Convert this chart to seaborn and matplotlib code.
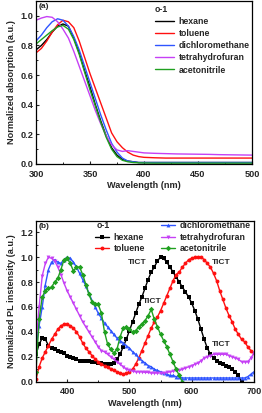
import numpy as np
import pandas as pd
import seaborn as sns
import matplotlib.pyplot as plt
from matplotlib.lines import Line2D
from matplotlib.ticker import MultipleLocator

# absorption spectra (panel a)
abs_wl = [300, 305, 310, 315, 320, 325, 330, 335, 340, 345, 350, 355, 360, 365, 370,
          375, 380, 385, 390, 395, 400, 410, 420, 430, 440, 450, 460, 470, 480, 490, 500]
abs_hexane = [0.77, 0.80, 0.84, 0.89, 0.93, 0.945, 0.93, 0.85, 0.75, 0.63, 0.52, 0.40, 0.29, 0.19, 0.11,
              0.06, 0.03, 0.02, 0.015, 0.01, 0.01, 0.01, 0.01, 0.01, 0.01, 0.01, 0.01, 0.01, 0.01, 0.01, 0.01]
abs_toluene = [0.75, 0.78, 0.83, 0.89, 0.94, 0.97, 0.96, 0.92, 0.83, 0.72, 0.61, 0.51, 0.41, 0.31, 0.21,
               0.15, 0.11, 0.08, 0.06, 0.05, 0.045, 0.042, 0.04, 0.04, 0.04, 0.04, 0.04, 0.04, 0.04, 0.04, 0.04]
abs_dcm = [0.83, 0.87, 0.92, 0.96, 0.98, 0.97, 0.93, 0.86, 0.77, 0.66, 0.55, 0.44, 0.33, 0.23, 0.14,
           0.08, 0.04, 0.02, 0.015, 0.01, 0.01, 0.01, 0.01, 0.01, 0.01, 0.01, 0.01, 0.01, 0.01, 0.01, 0.01]
abs_thf = [0.97, 0.985, 0.995, 0.99, 0.96, 0.91, 0.85, 0.76, 0.66, 0.56, 0.46, 0.36, 0.27, 0.19, 0.13,
           0.095, 0.085, 0.09, 0.085, 0.08, 0.075, 0.072, 0.07, 0.068, 0.067, 0.066, 0.065, 0.063, 0.062, 0.061, 0.06]
abs_acn = [0.81, 0.84, 0.87, 0.90, 0.925, 0.935, 0.91, 0.84, 0.74, 0.62, 0.50, 0.39, 0.28, 0.18, 0.10,
           0.05, 0.025, 0.015, 0.01, 0.008, 0.007, 0.006, 0.006, 0.006, 0.006, 0.006, 0.006, 0.006, 0.006, 0.006, 0.006]

# PL spectra (panel b), 350-700 nm every 5 nm
pl_wl = list(range(350, 705, 5))
pl_hexane = [0.22, 0.30, 0.35, 0.34, 0.29, 0.27, 0.26, 0.25, 0.24, 0.23, 0.21, 0.20, 0.19, 0.18, 0.17,
             0.17, 0.17, 0.17, 0.16, 0.16, 0.15, 0.15, 0.14, 0.14, 0.14, 0.15, 0.18, 0.22, 0.28, 0.34,
             0.41, 0.48, 0.55, 0.62, 0.68, 0.75, 0.82, 0.88, 0.92, 0.97, 1.0, 0.99, 0.96, 0.92, 0.88,
             0.84, 0.80, 0.76, 0.72, 0.68, 0.63, 0.57, 0.50, 0.42, 0.34, 0.27, 0.22, 0.19, 0.17, 0.15,
             0.14, 0.13, 0.12, 0.10, 0.08, 0.05, 0.0]
pl_toluene = [0.02, 0.12, 0.19, 0.24, 0.29, 0.34, 0.38, 0.42, 0.45, 0.46, 0.46, 0.45, 0.43, 0.40, 0.36,
              0.31, 0.27, 0.24, 0.21, 0.18, 0.16, 0.14, 0.13, 0.12, 0.10, 0.09, 0.08, 0.07, 0.06, 0.07,
              0.08, 0.10, 0.14, 0.19, 0.25, 0.31, 0.37, 0.43, 0.48, 0.52, 0.57, 0.63, 0.69, 0.75, 0.81,
              0.86, 0.88, 0.92, 0.95, 0.98, 0.99, 1.0, 1.0, 1.0, 0.98, 0.95, 0.92, 0.87, 0.81, 0.73,
              0.66, 0.59, 0.53, 0.48, 0.42, 0.38, 0.34, 0.32, 0.28, 0.25, 0.23]
pl_dcm = [0.28, 0.45, 0.60, 0.78, 0.90, 0.96, 0.98, 0.96, 0.95, 0.98, 1.0, 0.99, 0.96, 0.92, 0.87,
          0.82, 0.77, 0.71, 0.65, 0.60, 0.55, 0.51, 0.47, 0.44, 0.41, 0.38, 0.35, 0.33, 0.31, 0.29,
          0.27, 0.24, 0.22, 0.19, 0.17, 0.15, 0.13, 0.12, 0.10, 0.09, 0.08, 0.07, 0.06, 0.05, 0.05,
          0.04, 0.04, 0.03, 0.03, 0.03, 0.03, 0.03, 0.03, 0.03, 0.03, 0.03, 0.03, 0.03, 0.03, 0.03,
          0.03, 0.03, 0.03, 0.03, 0.03, 0.03, 0.03, 0.03, 0.04, 0.06, 0.08]
pl_thf = [0.30, 0.60, 0.85, 0.95, 1.0, 0.99, 0.97, 0.92, 0.86, 0.79, 0.73, 0.68, 0.63, 0.58, 0.53,
          0.48, 0.44, 0.40, 0.36, 0.32, 0.28, 0.25, 0.24, 0.22, 0.20, 0.18, 0.16, 0.14, 0.12, 0.10,
          0.09, 0.085, 0.08, 0.08, 0.08, 0.075, 0.075, 0.07, 0.07, 0.07, 0.07, 0.07, 0.075, 0.08, 0.085,
          0.09, 0.09, 0.10, 0.11, 0.12, 0.13, 0.14, 0.15, 0.17, 0.19, 0.20, 0.21, 0.22, 0.22, 0.22,
          0.22, 0.22, 0.21, 0.20, 0.19, 0.18, 0.16, 0.16, 0.16, 0.19, 0.23]
pl_acn = [0.08, 0.50, 0.68, 0.73, 0.75, 0.76, 0.80, 0.83, 0.90, 0.98, 0.99, 0.95, 0.89, 0.92, 0.92,
          0.86, 0.78, 0.70, 0.64, 0.62, 0.62, 0.55, 0.40, 0.30, 0.26, 0.23, 0.26, 0.36, 0.43, 0.44,
          0.42, 0.40, 0.41, 0.44, 0.46, 0.49, 0.53, 0.58, 0.50, 0.44, 0.38, 0.33, 0.28, 0.22, 0.16,
          0.10, 0.05, 0.0]

solvents = ["hexane", "toluene", "dichloromethane", "tetrahydrofuran", "acetonitrile"]
colors = ["black", "#ff1010", "#2f55ff", "#c640f5", "#20a020"]
markers = ["s", "o", "^", "v", "D"]

sns.set_style("ticks")
plt.rcParams['font.family'] = ['Liberation Sans', 'DejaVu Sans']
plt.rcParams['font.weight'] = 'bold'
plt.rcParams['axes.labelweight'] = 'bold'

fig = plt.figure(figsize=(2.62, 4.13), dpi=100)
ax1 = fig.add_axes([36 / 262, 1 - 164 / 413, 216 / 262, 163 / 413])
ax2 = fig.add_axes([36 / 262, 1 - 381.7 / 413, 218 / 262, 160.7 / 413])

abs_data = [abs_hexane, abs_toluene, abs_dcm, abs_thf, abs_acn]
for name, vals, c in zip(solvents, abs_data, colors):
    df = pd.DataFrame({"wl": abs_wl, "y": vals})
    sns.lineplot(data=df, x="wl", y="y", color=c, lw=1.0, ax=ax1)

pl_data = [pl_hexane, pl_toluene, pl_dcm, pl_thf, pl_acn]
for name, vals, c, m in zip(solvents, pl_data, colors, markers):
    df = pd.DataFrame({"wl": pl_wl[:len(vals)], "y": vals})
    sns.lineplot(data=df, x="wl", y="y", color=c, lw=1.0, marker=m, markersize=2.8,
                 markeredgewidth=0, ax=ax2)

for ax in (ax1, ax2):
    ax.set_ylabel("")
    ax.tick_params(direction="in", labelsize=6.6, length=2.5, width=0.8)
    ax.tick_params(axis="x", pad=4)
    ax.tick_params(axis="y", pad=2)
    ax.tick_params(which="minor", direction="in", length=1.5, width=0.7)
    ax.yaxis.set_major_locator(MultipleLocator(0.2))
    ax.yaxis.set_minor_locator(MultipleLocator(0.1))
    for s in ax.spines.values():
        s.set_linewidth(0.9)
        s.set_color("black")
    for lab in ax.get_xticklabels() + ax.get_yticklabels():
        lab.set_fontweight("bold")

ax1.set_xlim(300, 500)
ax1.set_ylim(0, 1.1)
ax1.xaxis.set_major_locator(MultipleLocator(50))
ax1.xaxis.set_minor_locator(MultipleLocator(25))
ax1.set_xlabel("Wavelength (nm)", fontsize=6.6, fontweight="bold", labelpad=2)
ax1.set_ylabel("Normalized absorption (a.u.)", fontsize=6.6, fontweight="bold", labelpad=3)
ax1.text(0.01, 0.985, "(a)", transform=ax1.transAxes, fontsize=6, fontweight="bold", va="top")
ax1.text(0.551, 0.945, "o-1", transform=ax1.transAxes, fontsize=6.3, fontweight="bold", va="center")

h1 = [Line2D([], [], color=c, lw=1.0) for c in colors]
ax1.legend(h1, solvents, loc="upper left", bbox_to_anchor=(0.551, 0.90), frameon=False,
           borderpad=0, borderaxespad=0, handlelength=2.2, handletextpad=0.5,
           labelspacing=0.35, prop={"weight": "bold", "size": 6.3})

ax2.set_xlim(350, 700)
ax2.set_ylim(0, 1.29)
ax2.xaxis.set_major_locator(MultipleLocator(100))
ax2.xaxis.set_minor_locator(MultipleLocator(50))
ax2.set_xlabel("Wavelength (nm)", fontsize=6.6, fontweight="bold", labelpad=2)
ax2.set_ylabel("Normalized PL instensity (a.u.)", fontsize=6.6, fontweight="bold", labelpad=3)
ax2.text(0.01, 0.985, "(b)", transform=ax2.transAxes, fontsize=6, fontweight="bold", va="top")
ax2.text(0.278, 0.975, "o-1", transform=ax2.transAxes, fontsize=6.3, fontweight="bold", va="center")

h2 = [Line2D([], [], color=c, lw=1.0, marker=m, markersize=2.8, markeredgewidth=0)
      for c, m in zip(colors, markers)]
blank = Line2D([], [], color="none")
ax2.legend([blank, h2[0], h2[1], h2[2], h2[3], h2[4]],
           [" ", solvents[0], solvents[1], solvents[2], solvents[3], solvents[4]],
           ncol=2, loc="upper left", bbox_to_anchor=(0.271, 1.0), frameon=False,
           borderpad=0, borderaxespad=0, handlelength=1.55, handletextpad=0.55,
           labelspacing=0.3, columnspacing=1.9, prop={"weight": "bold", "size": 6.3})

for x, y in [(512, 0.96), (536, 0.645), (648, 0.96), (648, 0.30)]:
    ax2.text(x, y, "TICT", fontsize=6, fontweight="bold", ha="center", va="center")

fig.savefig("out.png", dpi=100)
